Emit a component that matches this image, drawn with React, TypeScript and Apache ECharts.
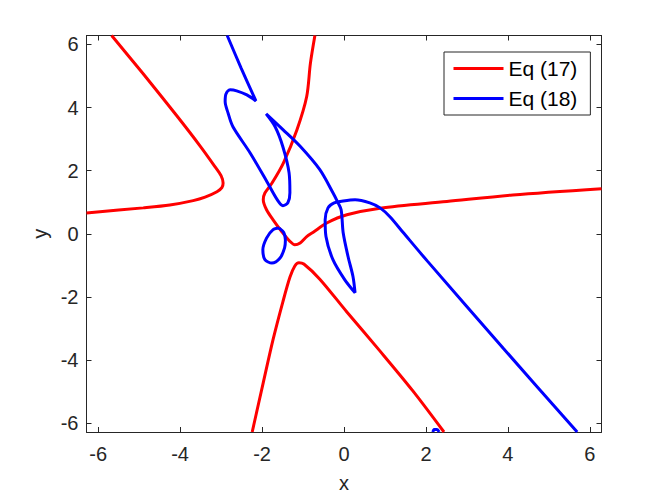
import React, { useEffect, useRef } from "react";
import * as echarts from "echarts";

const LIM = 6.283185;
const X_TICKS = [-6, -4, -2, 0, 2, 4, 6];
const Y_TICKS = [-6, -4, -2, 0, 2, 4, 6];
const NAME_17 = "Eq (17)";
const NAME_18 = "Eq (18)";

// Eq (17) branches (red)
const red17a: [number, number][] = [
  [-5.67, 6.283], [-4.9, 5.07], [-4.08, 3.74], [-3.51, 2.78], [-3.15, 2.13],
  [-3.0, 1.84], [-2.95, 1.61], [-2.98, 1.46], [-3.1, 1.33], [-3.39, 1.16],
  [-3.68, 1.05], [-4.25, 0.91], [-4.9, 0.82], [-6.283, 0.66],
];
const red17b: [number, number][] = [
  [-0.71, 6.283], [-0.82, 5.4], [-0.91, 4.35], [-1.15, 3.29], [-1.48, 2.24],
  [-1.76, 1.6], [-1.93, 1.29], [-1.97, 1.08], [-1.89, 0.76], [-1.73, 0.44],
  [-1.52, 0.07], [-1.32, -0.24], [-1.2, -0.35], [-1.07, -0.29], [-0.91, -0.09],
  [-0.75, 0.05], [-0.42, 0.34], [0.07, 0.6], [0.88, 0.81], [2.51, 1.02],
  [4.12, 1.23], [6.283, 1.43],
];
const red17c: [number, number][] = [
  [-2.24, -6.283], [-1.97, -4.72], [-1.73, -3.35], [-1.49, -2.15], [-1.32, -1.38],
  [-1.2, -1.02], [-1.1, -0.92], [-0.98, -0.96], [-0.59, -1.44], [0.07, -2.48],
  [0.88, -3.72], [1.68, -4.98], [2.44, -6.283],
];

// Eq (18) branches (blue)
const blue18a: [number, number][] = [
  [-2.85, 6.283], [-2.51, 5.25], [-2.15, 4.21], [-2.37, 4.4], [-2.62, 4.53],
  [-2.78, 4.56], [-2.88, 4.43], [-2.9, 4.19], [-2.83, 3.83], [-2.71, 3.39],
  [-2.29, 2.56], [-1.88, 1.65], [-1.63, 1.08], [-1.49, 0.89], [-1.37, 0.98],
  [-1.32, 1.3], [-1.34, 1.93], [-1.49, 2.75], [-1.68, 3.39], [-1.9, 3.8],
  [-1.49, 3.3], [-1.07, 2.77], [-0.59, 2.03], [-0.27, 1.3], [-0.16, 1.02],
  [-0.07, 0.76], [-0.02, 0.03], [0.1, -0.73], [0.22, -1.36], [0.27, -1.87],
  [0.02, -1.46], [-0.27, -0.82], [-0.44, -0.09], [-0.46, 0.44], [-0.39, 0.82],
  [-0.24, 0.98], [-0.02, 1.04], [0.27, 1.08], [0.63, 0.98], [0.88, 0.82],
  [1.12, 0.54], [1.45, 0.03], [2.03, -0.86], [3.88, -3.62], [5.69, -6.283],
];
const blue18b: [number, number][] = [
  [-1.58, 0.18], [-1.47, 0.04], [-1.43, -0.2], [-1.45, -0.45], [-1.56, -0.77],
  [-1.76, -0.93], [-1.93, -0.82], [-1.98, -0.51], [-1.89, -0.14], [-1.73, 0.13],
  [-1.58, 0.18],
];
const blue18c: [number, number][] = [
  [2.17, -6.283], [2.2, -6.2], [2.27, -6.2], [2.32, -6.283],
];

const FONT = "'Liberation Sans', Arial, Helvetica, sans-serif";
const TXT = "#262626";

export default function App() {
  const ref = useRef<HTMLDivElement>(null);
  useEffect(() => {
    if (!ref.current) return;
    const chart = echarts.init(ref.current, undefined, { renderer: "svg" });
    const mkSeries = (name: string, data: [number, number][], color: string) => ({
      type: "line",
      name,
      data,
      showSymbol: false,
      symbol: "none",
      smooth: 0.3,
      clip: true,
      silent: true,
      lineStyle: { color, width: 3 },
      itemStyle: { color },
      emphasis: { disabled: true },
    });
    const axisCommon = (ticks: number[]) => ({
      type: "value",
      min: -LIM,
      max: LIM,
      axisLine: { show: true, onZero: false, lineStyle: { color: TXT, width: 1 } },
      axisTick: { show: true, inside: true, length: 5, customValues: ticks, lineStyle: { color: TXT, width: 1 } },
      splitLine: { show: false },
    });
    chart.setOption({
      animation: false,
      backgroundColor: "#ffffff",
      grid: { left: 86.5, top: 35.5, width: 515, height: 397 },
      xAxis: [
        {
          ...axisCommon(X_TICKS),
          position: "bottom",
          name: "x",
          nameLocation: "middle",
          nameGap: 41,
          nameTextStyle: { fontSize: 20, color: TXT, fontFamily: FONT },
          axisLabel: { customValues: X_TICKS, margin: 12, fontSize: 20, color: TXT, fontFamily: FONT },
        },
        {
          ...axisCommon(X_TICKS),
          position: "top",
          axisLabel: { show: false },
        },
      ],
      yAxis: [
        {
          ...axisCommon(Y_TICKS),
          position: "left",
          name: "y",
          nameLocation: "middle",
          nameGap: 34,
          nameTextStyle: { fontSize: 20, color: TXT, fontFamily: FONT },
          axisLabel: { customValues: Y_TICKS, margin: 8, fontSize: 20, color: TXT, fontFamily: FONT },
        },
        {
          ...axisCommon(Y_TICKS),
          position: "right",
          axisLabel: { show: false },
        },
      ],
      legend: {
        data: [NAME_17, NAME_18],
        orient: "vertical",
        left: 444,
        top: 52,
        padding: [6, 13, 6, 8],
        itemGap: 9,
        itemWidth: 50,
        itemHeight: 20,
        itemTextGap: 5,
        selectedMode: false,
        borderColor: TXT,
        borderWidth: 1,
        backgroundColor: "#ffffff",
        itemStyle: { opacity: 0 },
        lineStyle: { width: 3 },
        textStyle: { fontSize: 21, color: "#000000", fontFamily: FONT },
      },
      series: [
        mkSeries(NAME_17, red17a, "#ff0000"),
        mkSeries(NAME_17, red17b, "#ff0000"),
        mkSeries(NAME_17, red17c, "#ff0000"),
        mkSeries(NAME_18, blue18a, "#0000ff"),
        mkSeries(NAME_18, blue18b, "#0000ff"),
        mkSeries(NAME_18, blue18c, "#0000ff"),
      ],
    });
    return () => chart.dispose();
  }, []);
  return (
    <div
      ref={ref}
      style={{ position: "fixed", left: 0, top: 0, width: 664, height: 498, background: "#fff" }}
    />
  );
}
